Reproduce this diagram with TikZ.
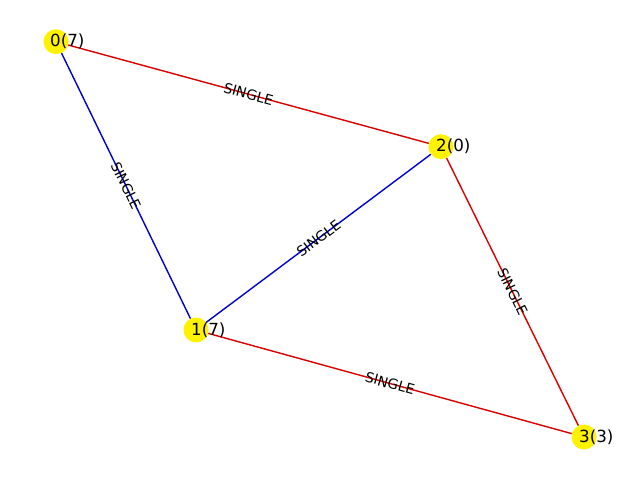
\documentclass[tikz,border=0pt]{standalone}
\usepackage{fontspec}
\setmainfont{DejaVu Sans}
\usetikzlibrary{positioning}

\tikzset{
  vertex/.style={circle, fill=yellow, inner sep=0pt, minimum size=25pt},
  vlabel/.style={inner sep=0pt, font=\fontsize{16.7}{18}\selectfont},
  elabel/.style={sloped, midway, inner sep=0pt, font=\fontsize{13.9}{15}\selectfont},
  redge/.style={draw=red!85!black, line width=1.4pt},
  bedge/.style={draw=blue!80!black, line width=1.4pt}
}

\begin{document}
\begin{tikzpicture}[x=1pt,y=1pt]
\useasboundingbox (0,0) rectangle (640,480);
\node[vertex] at (56,438.3) (n0) {};
\node[vertex] at (441,333.3) (n2) {};
\node[vertex] at (196,150) (n1) {};
\node[vertex] at (584,43) (n3) {};
\path[redge] (n0) -- node[elabel] {SINGLE} (n2);
\path[bedge] (n0) -- node[elabel] {SINGLE} (n1);
\path[bedge] (n1) -- node[elabel] {SINGLE} (n2);
\path[redge] (n2) -- node[elabel] {SINGLE} (n3);
\path[redge] (n1) -- node[elabel] {SINGLE} (n3);
\node[vlabel, right=-6pt of n0.center] (t0) {0(7)};
\node[vlabel, right=-5pt of n2.center] (t2) {2(0)};
\node[vlabel, right=-5pt of n1.center] (t1) {1(7)};
\node[vlabel, right=-5pt of n3.center] (t3) {3(3)};
\end{tikzpicture}
\end{document}
